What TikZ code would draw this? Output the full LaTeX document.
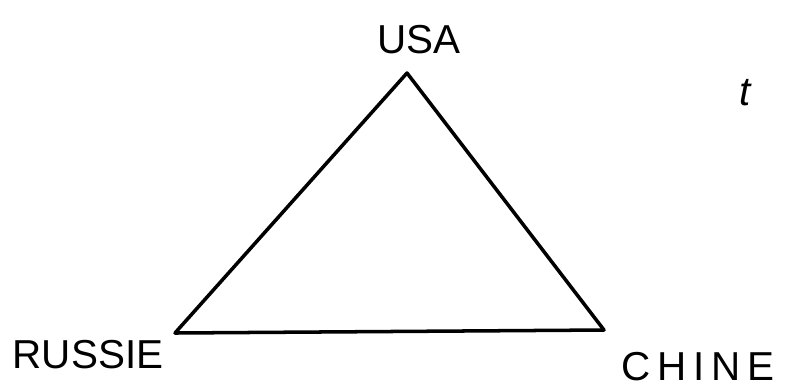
\documentclass[tikz,border=0pt]{standalone}
\usepackage{fontspec}
\setmainfont{Liberation Sans}
\begin{document}
\begin{tikzpicture}[x=0.02cm,y=-0.02cm,
    side/.style={black,line width=2pt,line join=round,line cap=round},
    lbl/.style={font=\fontsize{23}{26}\selectfont,inner sep=0pt}]
  \useasboundingbox (0,0) rectangle (793,387);
  % the three powers
  \coordinate (usa) at (407,73);
  \coordinate (rus) at (175,333);
  \coordinate (chi) at (604,330);
  \draw[side] (usa) -- (chi) -- (rus) -- cycle;
  \node[lbl] (lusa) at (419,40) {USA};
  \node[lbl] (lrus) at (88,355) {RUSSIE};
  \node[lbl] (lchi) at (698,367) {C\,H\,I\,N\,E};
  \node[lbl] (time) at (745,93) {\itshape t};
\end{tikzpicture}
\end{document}
